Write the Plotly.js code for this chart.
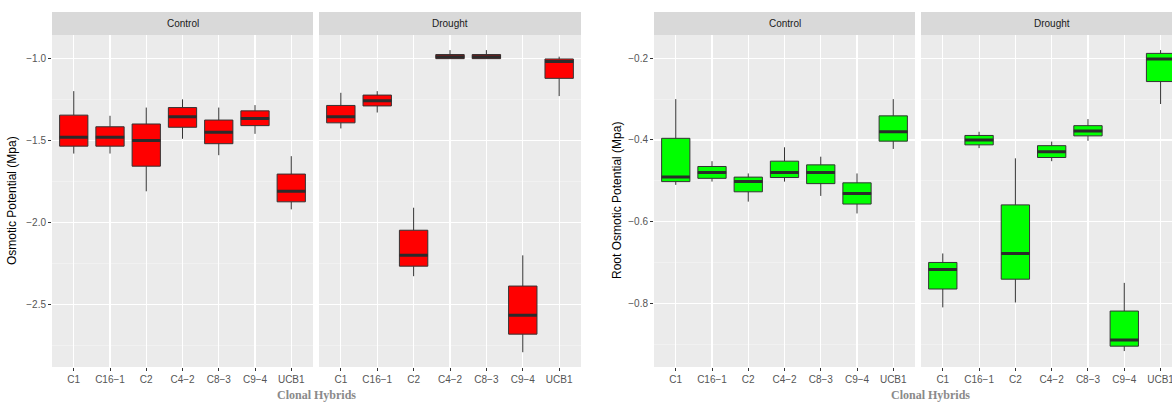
<!DOCTYPE html>
<html>
<head>
<meta charset="utf-8">
<script src="https://cdn.plot.ly/plotly-3.0.1.min.js"></script>
<style>html,body{margin:0;padding:0;background:#fff;} #chart{width:1172px;height:402px;}</style>
</head>
<body>
<div id="chart"></div>
<script>
// ---- data ----
const categories = ["C1", "C16\u22121", "C2", "C4\u22122", "C8\u22123", "C9\u22124", "UCB1"];
const facets = ["Control", "Drought"];

// Leaf osmotic potential (Mpa)
const leafControlLow   = [-1.58, -1.58, -1.81, -1.49, -1.59, -1.46, -1.92];
const leafControlQ1    = [-1.535, -1.535, -1.657, -1.42, -1.52, -1.41, -1.874];
const leafControlMed   = [-1.48, -1.48, -1.50, -1.356, -1.45, -1.366, -1.81];
const leafControlQ3    = [-1.346, -1.417, -1.40, -1.30, -1.376, -1.32, -1.705];
const leafControlHigh  = [-1.20, -1.35, -1.30, -1.25, -1.30, -1.285, -1.596];

const leafDroughtLow   = [-1.427, -1.33, -2.327, -1.0, -1.0, -2.79, -1.23];
const leafDroughtQ1    = [-1.393, -1.29, -2.266, -1.002, -1.002, -2.68, -1.122];
const leafDroughtMed   = [-1.356, -1.258, -2.20, -0.99, -0.99, -2.565, -1.02];
const leafDroughtQ3    = [-1.287, -1.224, -2.047, -0.977, -0.977, -2.387, -1.004];
const leafDroughtHigh  = [-1.21, -1.20, -1.91, -0.95, -0.95, -2.20, -0.99];

// Root osmotic potential (Mpa)
const rootControlLow   = [-0.51, -0.502, -0.551, -0.502, -0.537, -0.580, -0.422];
const rootControlQ1    = [-0.502, -0.494, -0.527, -0.492, -0.507, -0.557, -0.403];
const rootControlMed   = [-0.491, -0.48, -0.502, -0.48, -0.48, -0.531, -0.38];
const rootControlQ3    = [-0.396, -0.465, -0.491, -0.452, -0.461, -0.505, -0.341];
const rootControlHigh  = [-0.30, -0.452, -0.482, -0.418, -0.441, -0.482, -0.30];

const rootDroughtLow   = [-0.81, -0.42, -0.798, -0.452, -0.402, -0.917, -0.312];
const rootDroughtQ1    = [-0.765, -0.412, -0.741, -0.443, -0.39, -0.905, -0.257];
const rootDroughtMed   = [-0.717, -0.40, -0.678, -0.429, -0.378, -0.89, -0.202];
const rootDroughtQ3    = [-0.70, -0.389, -0.559, -0.414, -0.365, -0.819, -0.188];
const rootDroughtHigh  = [-0.678, -0.38, -0.445, -0.404, -0.349, -0.75, -0.18];

const leafTitle = "Osmotic Potential (Mpa)";
const rootTitle = "Root Osmotic Potential (Mpa)";
const xTitle = "Clonal Hybrids";

// ---- traces ----
function boxPair(low, q1, med, q3, high, xa, ya, fill) {
  const main = {
    type: "box", x: categories, q1: q1, median: med, q3: q3,
    lowerfence: low, upperfence: high,
    xaxis: xa, yaxis: ya,
    fillcolor: fill, line: {color: "#333333", width: 1},
    whiskerwidth: 0, boxpoints: false, showlegend: false, hoverinfo: "skip"
  };
  const medLine = {
    type: "box", x: categories, q1: med, median: med, q3: med,
    lowerfence: med, upperfence: med,
    xaxis: xa, yaxis: ya,
    fillcolor: "rgba(0,0,0,0)", line: {color: "#2b2b2b", width: 3},
    whiskerwidth: 0, boxpoints: false, showlegend: false, hoverinfo: "skip"
  };
  return [main, medLine];
}

const red = "#ff0000", green = "#00ff00";
const data = [].concat(
  boxPair(leafControlLow, leafControlQ1, leafControlMed, leafControlQ3, leafControlHigh, "x", "y", red),
  boxPair(leafDroughtLow, leafDroughtQ1, leafDroughtMed, leafDroughtQ3, leafDroughtHigh, "x2", "y", red),
  boxPair(rootControlLow, rootControlQ1, rootControlMed, rootControlQ3, rootControlHigh, "x3", "y2", green),
  boxPair(rootDroughtLow, rootDroughtQ1, rootDroughtMed, rootDroughtQ3, rootDroughtHigh, "x4", "y2", green)
);

// ---- layout ----
const W = 1172, H = 402;
const px = v => v / W;
const py = v => 1 - v / H;
const plotTop = 35, plotBot = 367, stripTop = 12;

function xax(l, r, anchor, rmax) {
  return {
    domain: [px(l), px(r)], anchor: anchor, type: "category",
    categoryorder: "array", categoryarray: categories,
    range: [-0.6, rmax],
    showgrid: true, gridcolor: "#ffffff", gridwidth: 1.1,
    zeroline: false, showline: false,
    ticks: "outside", ticklen: 3, tickcolor: "#333333", tickwidth: 1,
    tickfont: {family: "Liberation Sans, Arial, sans-serif", size: 10, color: "#555555"},
    fixedrange: true
  };
}
function yax(range, dtick, anchor) {
  return {
    domain: [py(plotBot), py(plotTop)], anchor: anchor,
    range: range, tick0: 0, dtick: dtick, tickformat: ".1f",
    showgrid: true, gridcolor: "#ffffff", gridwidth: 1.1,
    minor: {dtick: dtick / 2, showgrid: true, gridcolor: "#f5f5f5", gridwidth: 0.6, ticks: ""},
    zeroline: false, showline: false,
    ticks: "outside", ticklen: 3, tickcolor: "#333333", tickwidth: 1,
    tickfont: {family: "Liberation Sans, Arial, sans-serif", size: 10, color: "#555555"},
    fixedrange: true
  };
}

const panels = [
  {l: 52, r: 313, label: facets[0]},
  {l: 319, r: 581, label: facets[1]},
  {l: 654, r: 915, label: facets[0]},
  {l: 921, r: 1183, label: facets[1]}
];
const shapes = panels.map(p => ({
  type: "rect", xref: "paper", yref: "paper",
  x0: px(p.l), x1: Math.min(1, px(p.r)), y0: py(plotTop), y1: py(stripTop),
  fillcolor: "#d9d9d9", line: {width: 0}, layer: "below"
}));
const annotations = panels.map(p => ({
  xref: "paper", yref: "paper", x: px((p.l + p.r) / 2), y: py((stripTop + plotTop) / 2),
  text: p.label, showarrow: false, xanchor: "center", yanchor: "middle",
  font: {family: "Liberation Sans, Arial, sans-serif", size: 10, color: "#1a1a1a"}
}));
annotations.push(
  {xref: "paper", yref: "paper", x: px(12), y: py((plotTop + plotBot) / 2), text: leafTitle,
   textangle: -90, showarrow: false, xanchor: "center", yanchor: "middle",
   font: {family: "Liberation Sans, Arial, sans-serif", size: 12, color: "#000000"}},
  {xref: "paper", yref: "paper", x: px(617), y: py((plotTop + plotBot) / 2), text: rootTitle,
   textangle: -90, showarrow: false, xanchor: "center", yanchor: "middle",
   font: {family: "Liberation Sans, Arial, sans-serif", size: 12, color: "#000000"}},
  {xref: "paper", yref: "paper", x: px(316), y: py(395), text: "<b>" + xTitle + "</b>",
   showarrow: false, xanchor: "center", yanchor: "middle",
   font: {family: "Liberation Serif, Times New Roman, serif", size: 12, color: "#8a8a8a"}},
  {xref: "paper", yref: "paper", x: px(930), y: py(395), text: "<b>" + xTitle + "</b>",
   showarrow: false, xanchor: "center", yanchor: "middle",
   font: {family: "Liberation Serif, Times New Roman, serif", size: 12, color: "#8a8a8a"}}
);

const layout = {
  width: W, height: H,
  margin: {l: 0, r: 0, t: 0, b: 0},
  paper_bgcolor: "#ffffff", plot_bgcolor: "#ebebeb",
  boxmode: "overlay", boxgap: 0.22, boxgroupgap: 0,
  showlegend: false,
  xaxis: xax(52, 313, "y", 6.6),
  xaxis2: xax(319, 581, "y", 6.6),
  xaxis3: xax(654, 915, "y2", 6.6),
  xaxis4: xax(921, 1172, "y2", -0.6 + (1172 - 921) / 36.3),
  yaxis: yax([-2.88, -0.858], 0.5, "x"),
  yaxis2: yax([-0.956, -0.143], 0.2, "x3"),
  shapes: shapes, annotations: annotations
};

Plotly.newPlot("chart", data, layout, {staticPlot: true, displayModeBar: false});
</script>
</body>
</html>
